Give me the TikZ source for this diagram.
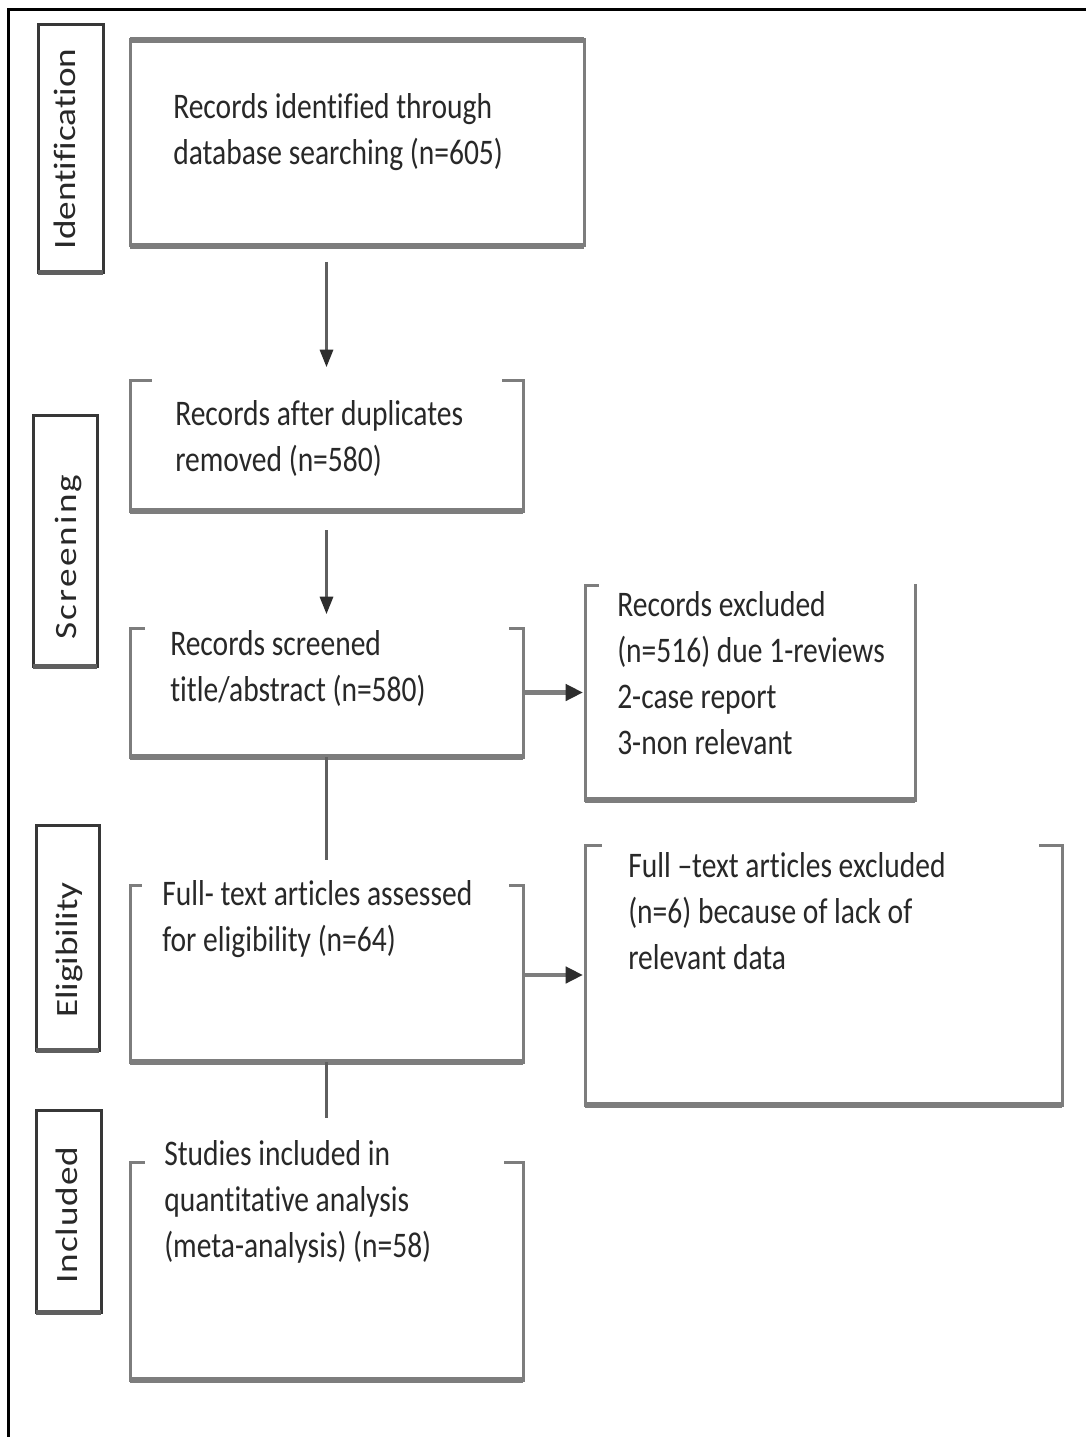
\documentclass[tikz,border=0pt]{standalone}
\usepackage{fontspec}
\setmainfont{Carlito}[FakeStretch=0.82,Ligatures=NoCommon]
\newfontfamily\labfont{Carlito}[FakeStretch=1.2,Ligatures=NoCommon]
\usetikzlibrary{arrows.meta,fit,calc}
\definecolor{edgegray}{RGB}{125,125,125}
\definecolor{txtcol}{RGB}{40,40,40}
\definecolor{labedge}{RGB}{55,55,55}
\definecolor{arrcol}{RGB}{45,45,45}
\definecolor{shaftcol}{RGB}{95,95,95}
\begin{document}
\begin{tikzpicture}[x=0.75pt,y=-0.75pt,
  area/.style={inner sep=0pt,outer sep=0pt,draw=none},
  edge/.style={draw=edgegray,line width=2.25pt,line cap=rect},
  thickedge/.style={draw=edgegray,line width=4.5pt},
  labbox/.style={draw=labedge,line width=2.25pt},
  labbottom/.style={draw=labedge!80,line width=3.75pt},
  txt/.style={inner sep=0pt,anchor=base west,align=left,text=txtcol,
    font=\fontsize{27}{34.5}\selectfont},
  lab/.style={inner sep=0pt,rotate=90,anchor=base,text=txtcol,
    font=\labfont\fontsize{23.25}{28}\selectfont},
  varr/.style={draw=shaftcol,line width=1.6pt,-{Triangle[length=13pt,width=10pt,color=arrcol]}},
  harr/.style={draw=edgegray,line width=3.2pt,-{Triangle[length=13pt,width=12pt,color=arrcol]}},
  vline/.style={draw=shaftcol,line width=1.6pt}]
\useasboundingbox (0,0) rectangle (1086,1437);
\fill[white] (0,0) rectangle (1086,1437);
% outer frame (top and left only)
\draw[black,line width=2.25pt] (8,1437) -- (8,10) -- (1086,10);

% stage label boxes
\node[area,fit={(38,25) (103,273)}] (s1) {};
\node[area,fit={(33,415) (97,666)}] (s2) {};
\node[area,fit={(36,825) (99,1050)}] (s3) {};
\node[area,fit={(36,1110) (101,1312)}] (s4) {};
\foreach \s in {s1,s2,s3,s4}{
  \draw[labbox] (\s.north west) rectangle (\s.south east);
  \draw[labbottom] (\s.south west) -- (\s.south east);
}
\node[lab] (l1) at (75,149) {Identification};
\node[lab] (l2) at (76,557) {\addfontfeatures{LetterSpace=7}Screening};
\node[lab] (l3) at (77,950) {Eligibility};
\node[lab] (l4) at (77,1215) {\addfontfeatures{LetterSpace=3}Included};

% main boxes
\node[area,fit={(130,40) (584,246)}] (b1) {};
\node[area,fit={(130,380) (523,511)}] (b2) {};
\node[area,fit={(130,628) (523,757)}] (b3) {};
\node[area,fit={(585,585) (915,800)}] (b4) {};
\node[area,fit={(130,885) (523,1062)}] (b5) {};
\node[area,fit={(585,845) (1062,1105)}] (b6) {};
\node[area,fit={(130,1162) (523,1380)}] (b7) {};

\draw[edge] (b1.north west) rectangle (b1.south east);
\draw[thickedge] (b1.north west) -- (b1.north east);
\draw[thickedge] (b1.south west) -- (b1.south east);

\draw[edge] ($(b2.north west)+(20,0)$) -- (b2.north west) -- (b2.south west) -- (b2.south east) -- (b2.north east) -- ($(b2.north east)+(-20,0)$);
\draw[thickedge] (b2.south west) -- (b2.south east);

\draw[edge] ($(b3.north west)+(13,0)$) -- (b3.north west) -- (b3.south west) -- (b3.south east) -- (b3.north east) -- ($(b3.north east)+(-13,0)$);
\draw[thickedge] (b3.south west) -- (b3.south east);

\draw[edge] ($(b4.north west)+(12,0)$) -- (b4.north west) -- (b4.south west) -- (b4.south east) -- (b4.north east);
\draw[thickedge] (b4.south west) -- (b4.south east);

\draw[edge] ($(b5.north west)+(10,0)$) -- (b5.north west) -- (b5.south west) -- (b5.south east) -- (b5.north east) -- ($(b5.north east)+(-13,0)$);
\draw[thickedge] (b5.south west) -- (b5.south east);

\draw[edge] ($(b6.north west)+(15,0)$) -- (b6.north west) -- (b6.south west) -- (b6.south east) -- (b6.north east) -- ($(b6.north east)+(-22,0)$);
\draw[thickedge] (b6.south west) -- (b6.south east);

\draw[edge] ($(b7.north west)+(13,0)$) -- (b7.north west) -- (b7.south west) -- (b7.south east) -- (b7.north east) -- ($(b7.north east)+(-18,0)$);
\draw[thickedge] (b7.south west) -- (b7.south east);

% texts (anchor = baseline of the last line)
\node[txt] (t1) at (173,165) {Records identified through\\database searching (n=605)};
\node[txt] (t2) at (175,471) {Records after duplicates\\removed (n=580)};
\node[txt] (t3) at (170,701) {Records screened\\title/abstract (n=580)};
\node[txt] (t4) at (617,754) {Records excluded\\(n=516) due 1-reviews\\2-case report\\3-non relevant};
\node[txt] (t5) at (162,951) {Full- text articles assessed\\for eligibility (n=64)};
\node[txt] (t6) at (628,969) {Full –text articles excluded\\(n=6) because of lack of\\relevant data};
\node[txt] (t7) at (164,1257) {Studies included in\\quantitative analysis\\(meta-analysis) (n=58)};

% connectors
\draw[varr] ($(b1.south -| b2.north)+(0,16)$) -- ($(b2.north)+(0,-13)$);
\draw[varr] ($(b2.south)+(0,19)$) -- ($(b3.north)+(0,-14)$);
\draw[vline] (b3.south) -- ($(b5.north)+(0,-25)$);
\draw[vline] (b5.south) -- ($(b7.north)+(0,-44)$);
\draw[harr] (b3.east |- b4.west) -- ($(b4.west)+(-2,0)$);
\draw[harr] (b5.east |- b6.west) -- ($(b6.west)+(-2,0)$);
\end{tikzpicture}
\end{document}
